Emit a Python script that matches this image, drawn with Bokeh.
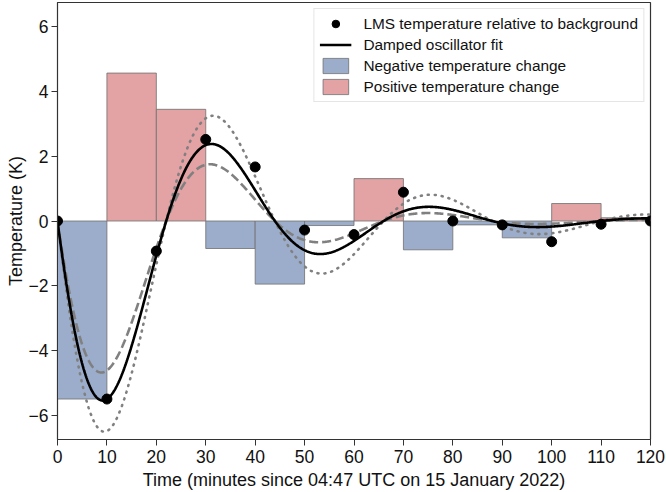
import numpy as np
from bokeh.plotting import figure
from bokeh.models import Range1d, FixedTicker, Legend, LegendItem
from bokeh.embed import file_html
from bokeh.resources import INLINE

# LMS temperature relative to background, sampled every 10 minutes
minutes = [0, 10, 20, 30, 40, 50, 60, 70, 80, 90, 100, 110, 120]
temperature_K = [0.0, -5.50, -0.93, 2.52, 1.67, -0.28, -0.42, 0.89, 0.0, -0.12, -0.64, -0.10, 0.0]

# Damped oscillator fit: T(t) = -A * exp(-t / tau) * sin(2*pi*t / P)
fit_amplitude_K = 8.17
fit_decay_min = 26.0
fit_period_min = 44.0

# Lower / upper fit envelopes (dashed / dotted)
low_amplitude_K = 7.29
low_decay_min = 22.4
high_amplitude_K = 8.99
high_decay_min = 31.7

x_ticks = [0, 10, 20, 30, 40, 50, 60, 70, 80, 90, 100, 110, 120]
y_ticks = [-6, -4, -2, 0, 2, 4, 6]

FONT = "Liberation Sans"
BLUE = "#9badca"
RED = "#e3a2a4"
EDGE = "#6f6f6f"

# Change in temperature over each 10-minute interval
t = np.array(minutes, dtype=float)
temp = np.array(temperature_K)
change = np.diff(temp)
left = t[:-1]
right = t[1:]
neg = change < 0
pos = ~neg


def oscillator(tt, amp, tau, period):
    return -amp * np.exp(-tt / tau) * np.sin(2 * np.pi * tt / period)


tt = np.linspace(0, 120, 801)

p = figure(width=666, height=492, output_backend="svg", toolbar_location=None,
           x_range=Range1d(0, 120), y_range=Range1d(-6.75, 6.75),
           min_border_left=57, min_border_right=16, min_border_top=2, min_border_bottom=53)
p.xgrid.visible = False
p.ygrid.visible = False
p.outline_line_color = "#333333"
p.outline_line_width = 1.2
p.background_fill_color = "white"
p.border_fill_color = "white"

neg_r = p.quad(left=left[neg], right=right[neg], bottom=np.zeros(neg.sum()), top=change[neg],
               fill_color=BLUE, line_color=EDGE, line_width=0.8)
pos_r = p.quad(left=left[pos], right=right[pos], bottom=np.zeros(pos.sum()), top=change[pos],
               fill_color=RED, line_color=EDGE, line_width=0.8)

p.line(tt, oscillator(tt, high_amplitude_K, high_decay_min, fit_period_min),
       line_color="#808080", line_width=2.6, line_dash="1 6", line_cap="round")
p.line(tt, oscillator(tt, low_amplitude_K, low_decay_min, fit_period_min),
       line_color="#808080", line_width=2.6, line_dash="9 4")
fit_r = p.line(tt, oscillator(tt, fit_amplitude_K, fit_decay_min, fit_period_min),
               line_color="black", line_width=2.6)
pts_r = p.scatter(t, temp, size=10, color="black")

for ax in (p.xaxis[0], p.yaxis[0]):
    ax.major_label_text_font = FONT
    ax.major_label_text_font_size = "17.5px"
    ax.major_label_text_color = "#111111"
    ax.major_label_standoff = 4
    ax.axis_label_text_font = FONT
    ax.axis_label_text_font_size = "18px"
    ax.axis_label_text_font_style = "normal"
    ax.axis_label_text_color = "#111111"
    ax.major_tick_out = 6
    ax.major_tick_in = 0
    ax.minor_tick_out = 0
    ax.minor_tick_in = 0
    ax.axis_line_color = "#333333"
    ax.major_tick_line_color = "#333333"

p.xaxis.ticker = FixedTicker(ticks=x_ticks)
p.yaxis.ticker = FixedTicker(ticks=y_ticks)
p.yaxis.major_label_overrides = {v: str(v).replace("-", "\u2212") for v in y_ticks}
p.xaxis.axis_label = "Time (minutes since 04:47 UTC on 15 January 2022)"
p.yaxis.axis_label = "Temperature (K)"
p.xaxis.axis_label_standoff = 4
p.yaxis.axis_label_standoff = 0
p.yaxis.major_label_standoff = 3

legend = Legend(items=[
    LegendItem(label="LMS temperature relative to background", renderers=[pts_r]),
    LegendItem(label="Damped oscillator fit", renderers=[fit_r]),
    LegendItem(label="Negative temperature change", renderers=[neg_r]),
    LegendItem(label="Positive temperature change", renderers=[pos_r]),
], location="top_right")
legend.label_text_font = FONT
legend.label_text_font_size = "15.4px"
legend.label_text_color = "#111111"
legend.label_height = 19
legend.glyph_height = 19
legend.glyph_width = 32
legend.spacing = 2
legend.padding = 5
legend.margin = 6
legend.label_standoff = 12
legend.border_line_color = "#cccccc"
legend.border_line_width = 1
legend.background_fill_alpha = 0.85
p.add_layout(legend)

open("out.html", "w").write(file_html(p, INLINE))
